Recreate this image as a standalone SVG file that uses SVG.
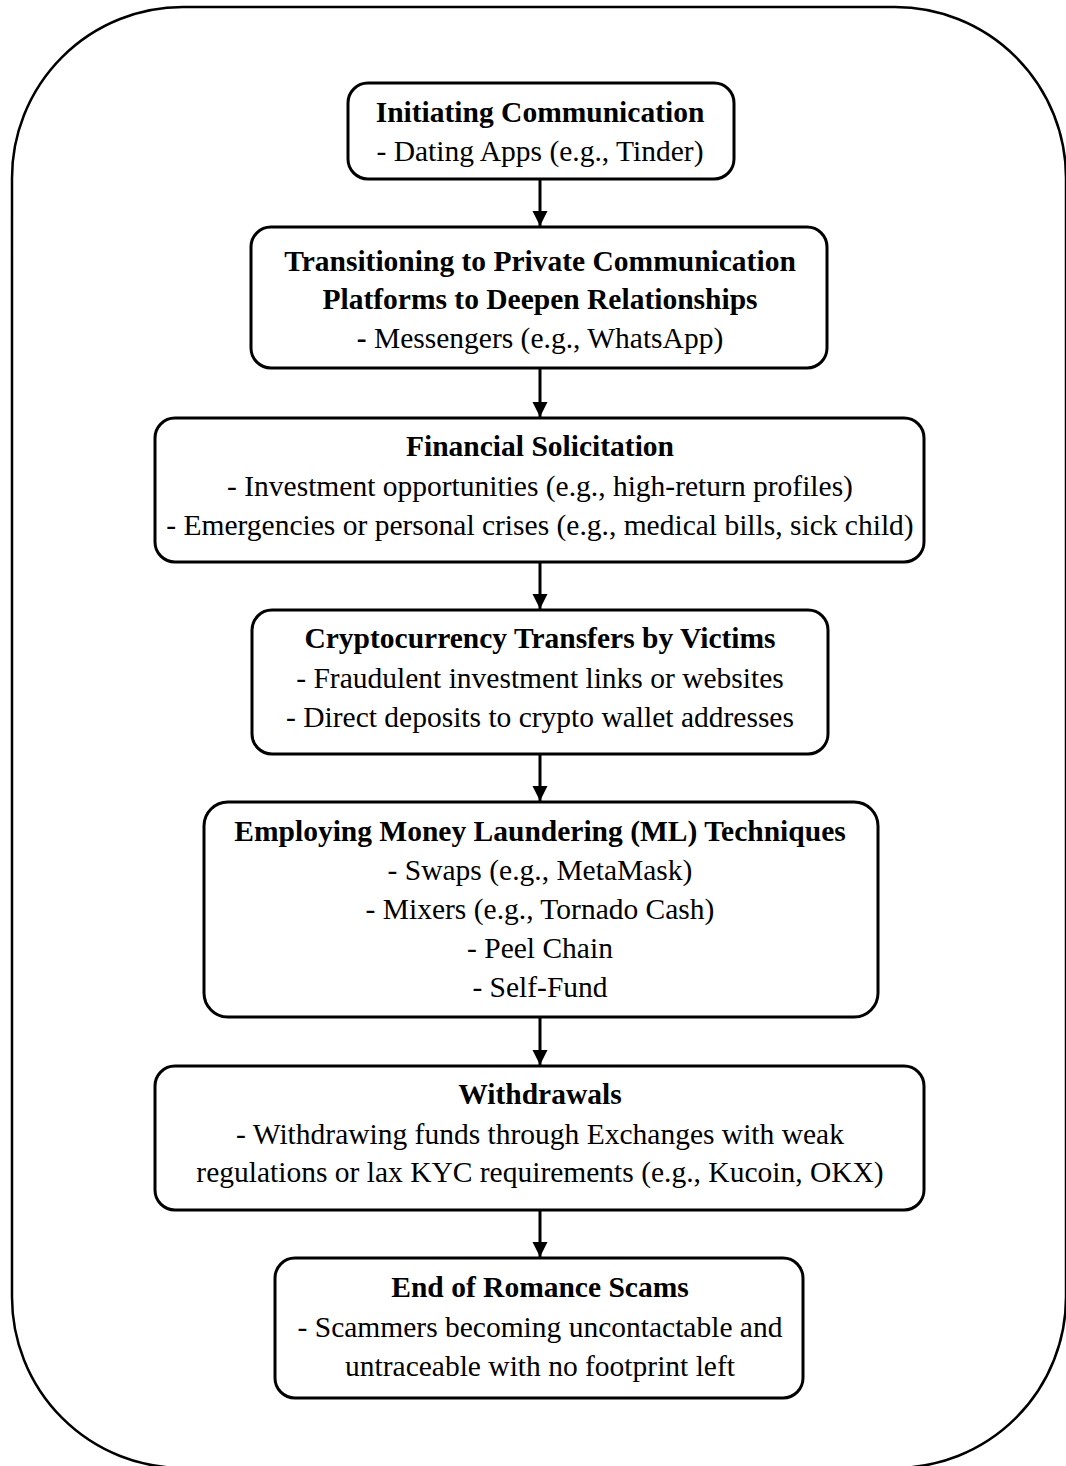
<svg xmlns="http://www.w3.org/2000/svg" width="1066" height="1466" viewBox="0 0 1066 1466">
<style>
.box{fill:#fff;stroke:#000;stroke-width:3}
text{font-family:"Liberation Serif","Times New Roman",serif;font-size:29.5px;text-anchor:middle;fill:#000}
.b{font-weight:bold}
.conn line{stroke:#000;stroke-width:3}
</style>
<defs>
<marker id="ah" viewBox="0 0 10 10" refX="10" refY="5" markerWidth="5" markerHeight="5.5" markerUnits="strokeWidth" orient="auto">
<path d="M0,0 L10,5 L0,10 Z" fill="#000"/>
</marker>
</defs>
<rect x="12" y="7" width="1054" height="1461" rx="171" ry="171" fill="none" stroke="#000" stroke-width="2.5"/>
<g id="n1">
<rect class="box" x="348" y="83" width="386" height="96" rx="20"/>
<text class="b" x="540" y="122">Initiating Communication</text>
<text x="540" y="161">- Dating Apps (e.g., Tinder)</text>
</g>
<g id="n2">
<rect class="box" x="251" y="227" width="576" height="141" rx="20"/>
<text class="b" x="540" y="271">Transitioning to Private Communication</text>
<text class="b" x="540" y="309">Platforms to Deepen Relationships</text>
<text x="540" y="348"><tspan class="b">-</tspan> Messengers (e.g., WhatsApp)</text>
</g>
<g id="n3">
<rect class="box" x="155" y="418" width="769" height="144" rx="20"/>
<text class="b" x="540" y="456">Financial Solicitation</text>
<text x="540" y="496">- Investment opportunities (e.g., high-return profiles)</text>
<text x="540" y="535">- Emergencies or personal crises (e.g., medical bills, sick child)</text>
</g>
<g id="n4">
<rect class="box" x="252" y="610" width="576" height="144" rx="20"/>
<text class="b" x="540" y="648">Cryptocurrency Transfers by Victims</text>
<text x="540" y="688">- Fraudulent investment links or websites</text>
<text x="540" y="727">- Direct deposits to crypto wallet addresses</text>
</g>
<g id="n5">
<rect class="box" x="204" y="802" width="674" height="215" rx="24"/>
<text class="b" x="540" y="841">Employing Money Laundering (ML) Techniques</text>
<text x="540" y="880">- Swaps (e.g., MetaMask)</text>
<text x="540" y="919">- Mixers (e.g., Tornado Cash)</text>
<text x="540" y="958">- Peel Chain</text>
<text x="540" y="997">- Self-Fund</text>
</g>
<g id="n6">
<rect class="box" x="155" y="1066" width="769" height="144" rx="20"/>
<text class="b" x="540" y="1104">Withdrawals</text>
<text x="540" y="1144">- Withdrawing funds through Exchanges with weak</text>
<text x="540" y="1182">regulations or lax KYC requirements (e.g., Kucoin, OKX)</text>
</g>
<g id="n7">
<rect class="box" x="275" y="1258" width="528" height="140" rx="20"/>
<text class="b" x="540" y="1297">End of Romance Scams</text>
<text x="540" y="1337">- Scammers becoming uncontactable and</text>
<text x="540" y="1376">untraceable with no footprint left</text>
</g>
<g id="connectors" class="conn">
<line x1="540" y1="180" x2="540" y2="226" marker-end="url(#ah)"/>
<line x1="540" y1="369" x2="540" y2="417" marker-end="url(#ah)"/>
<line x1="540" y1="563" x2="540" y2="609" marker-end="url(#ah)"/>
<line x1="540" y1="755" x2="540" y2="801" marker-end="url(#ah)"/>
<line x1="540" y1="1018" x2="540" y2="1065" marker-end="url(#ah)"/>
<line x1="540" y1="1211" x2="540" y2="1257" marker-end="url(#ah)"/>
</g>
</svg>
